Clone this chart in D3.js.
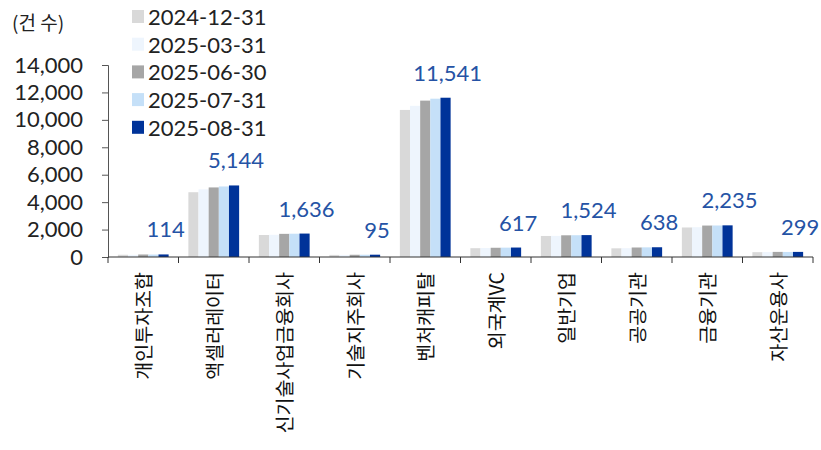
<!DOCTYPE html>
<meta charset="utf-8">
<head>
    <script src="https://d3js.org/d3.v7.min.js"></script>
    <style>
        body { margin: 0; background: #fff; }
        text { font-family: 'Noto Sans CJK KR', 'Noto Sans', sans-serif; }
        .num { font-family: Lato, 'Noto Sans', sans-serif; }
    </style>
</head>
<body>
    <div id="chart"></div>
    <script>

    // categories and series
    var categories = ["개인투자조합", "액셀러레이터", "신기술사업금융회사", "기술지주회사", "벤처캐피탈",
                      "외국계VC", "일반기업", "공공기관", "금융기관", "자산운용사"]
    var seriesNames = ["2024-12-31", "2025-03-31", "2025-06-30", "2025-07-31", "2025-08-31"]
    var s20241231 = [90, 4650, 1530, 80, 10650, 570, 1460, 560, 2080, 280]
    var s20250331 = [85, 4860, 1545, 80, 10950, 580, 1470, 570, 2100, 285]
    var s20250630 = [110, 5000, 1615, 90, 11330, 600, 1510, 620, 2220, 300]
    var s20250731 = [105, 5070, 1625, 92, 11470, 610, 1515, 630, 2225, 295]
    var s20250831 = [114, 5144, 1636, 95, 11541, 617, 1524, 638, 2235, 299]
    var yTicks = [0, 2000, 4000, 6000, 8000, 10000, 12000, 14000]
    var colors = ["#d9d9d9", "#eef5fd", "#a6a6a6", "#c5e0f8", "#003399"]

    var series = [s20241231, s20250331, s20250630, s20250731, s20250831]

    var width = 821, height = 450

    var svg = d3.select("#chart")
                .append("svg")
                .attr("width", width)
                .attr("height", height)

    var x = d3.scaleBand()
              .domain(categories)
              .range([108, 813])
              .paddingInner(0.28)
              .paddingOuter(0.14)

    var xSub = d3.scaleBand()
                 .domain(seriesNames)
                 .range([0, x.bandwidth()])

    var y = d3.scaleLinear()
              .domain([0, 14000])
              .range([257, 65])

    // y axis
    var yAxis = svg.append("g")
        .attr("transform", "translate(108,0)")
        .call(d3.axisLeft(y).tickValues(yTicks).tickSize(6).tickPadding(19).tickFormat(d3.format(",")))
    yAxis.selectAll("text").attr("class", "num").style("font-size", "22px").attr("fill", "#222")
    yAxis.selectAll("line").attr("stroke", "#555")
    yAxis.select(".domain").attr("stroke", "#555")

    // bars
    seriesNames.forEach(function(name, si) {
        svg.selectAll(".bar" + si)
            .data(series[si])
            .enter()
            .append("rect")
            .attr("x", function(d, i) { return x(categories[i]) + xSub(name) })
            .attr("y", function(d) { return y(d) - 1 })
            .attr("width", xSub.bandwidth())
            .attr("height", function(d) { return y(0) - y(d) + 1 })
            .attr("fill", colors[si])
    })

    // x axis line + boundary ticks
    var step = x.step()
    var bounds = categories.map(function(c) { return x(c) - step * x.paddingInner() / 2 })
    bounds.push(813)
    svg.append("line")
        .attr("x1", 108).attr("x2", 813)
        .attr("y1", y(0)).attr("y2", y(0))
        .attr("stroke", "#333")
    svg.selectAll(".xtick")
        .data(bounds)
        .enter()
        .append("line")
        .attr("x1", function(d) { return d }).attr("x2", function(d) { return d })
        .attr("y1", y(0)).attr("y2", y(0) + 6)
        .attr("stroke", "#333")

    // category labels (rotated)
    svg.selectAll(".xlab")
        .data(categories)
        .enter()
        .append("text")
        .text(function(d) { return d })
        .attr("transform", function(d) {
            return "translate(" + (x(d) + x.bandwidth() / 2 + 8) + "," + 272 + ") rotate(-90)"
        })
        .style("text-anchor", "end")
        .style("font-size", "19.5px")
        .attr("fill", "#111")

    // value labels for last series
    svg.selectAll(".vlab")
        .data(s20250831)
        .enter()
        .append("text")
        .attr("class", "num")
        .text(function(d) { return d3.format(",")(d) })
        .attr("x", function(d, i) { return x(categories[i]) + xSub(seriesNames[4]) + xSub.bandwidth() / 2 + 2 })
        .attr("y", function(d) { return y(d) - 18 })
        .style("text-anchor", "middle")
        .style("font-size", "22px")
        .attr("fill", "#2553a5")

    // unit label
    svg.append("text")
        .text("(건 수)")
        .attr("x", 12).attr("y", 30)
        .style("font-size", "19px")
        .attr("fill", "#222")

    // legend
    var legend = svg.selectAll(".legend")
        .data(seriesNames)
        .enter()
        .append("g")
        .attr("transform", function(d, i) { return "translate(132," + (10 + i * 27.7) + ")" })
    legend.append("rect")
        .attr("width", 12).attr("height", 13)
        .attr("fill", function(d, i) { return colors[i] })
    legend.append("text")
        .attr("class", "num")
        .text(function(d) { return d })
        .attr("x", 16).attr("y", 15)
        .style("font-size", "22px")
        .attr("fill", "#222")
    </script>
</body>
